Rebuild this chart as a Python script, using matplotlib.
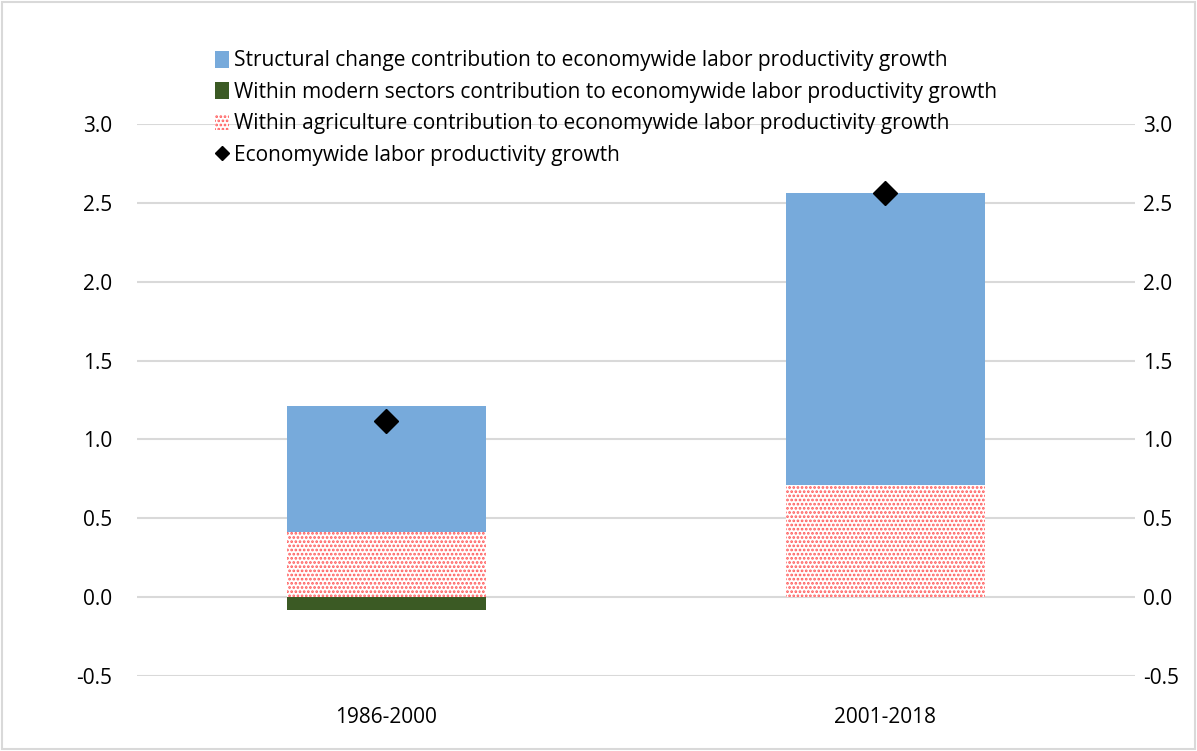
import matplotlib.pyplot as plt
from matplotlib.patches import Rectangle, Patch
from matplotlib.lines import Line2D

periods = ['1986-2000', '2001-2018']
structural = [0.80, 1.85]
within_modern = [-0.08, 0.0]
within_agri = [0.41, 0.71]
total_growth = [1.12, 2.56]

labels = ['Structural change contribution to economywide labor productivity growth',
          'Within modern sectors contribution to economywide labor productivity growth',
          'Within agriculture contribution to economywide labor productivity growth',
          'Economywide labor productivity growth']
yticks = [-0.5, 0.0, 0.5, 1.0, 1.5, 2.0, 2.5, 3.0]

plt.rcParams['font.family'] = ['Open Sans', 'DejaVu Sans']
plt.rcParams['hatch.color'] = '#ff5a5a'
plt.rcParams['hatch.linewidth'] = 1.3

fig = plt.figure(figsize=(11.97, 7.51), dpi=100)
ax = fig.add_axes([137/1197, 1 - 676/751, (1135-137)/1197, (676-124)/751])

x = range(len(periods))
w = 0.4
blue = '#77aadb'
green = '#3b5a24'
fs = 15

# agriculture (dotted) from zero, modern sectors below zero, structural on top of agriculture
ax.bar(x, within_agri, w, color='white', edgecolor='#ff5a5a', hatch='....', linewidth=0, zorder=2)
ax.bar(x, within_modern, w, color=green, linewidth=0, zorder=2)
ax.bar(x, structural, w, bottom=within_agri, color=blue, linewidth=0, zorder=2)
ax.plot(x, total_growth, linestyle='none', marker='D', markersize=12, color='black', zorder=3)

ax.set_xlim(-0.5, 1.5)
ax.set_ylim(-0.5, 3.0)
ax.set_yticks(yticks)
ax.set_yticklabels(['%.1f' % t for t in yticks])
ax.set_xticks(list(x))
ax.set_xticklabels(periods)
ax.grid(axis='y', color='#d9d9d9', linewidth=1.5, zorder=0)
ax.set_axisbelow(True)
for s in ax.spines.values():
  s.set_visible(False)
ax.tick_params(axis='both', length=0, labelsize=fs, colors='#000000')
ax.tick_params(axis='y', pad=18)
ax.tick_params(axis='x', pad=22)

ax2 = ax.twinx()
ax2.set_ylim(ax.get_ylim())
ax2.set_yticks(yticks)
ax2.set_yticklabels(['%.1f' % t for t in yticks])
for s in ax2.spines.values():
  s.set_visible(False)
ax2.tick_params(axis='y', length=0, labelsize=fs, pad=6)

handles = [Patch(facecolor=blue),
           Patch(facecolor=green),
           Patch(facecolor='white', edgecolor='#ff5a5a', hatch='....', linewidth=0),
           Line2D([], [], linestyle='none', marker='D', color='black', markersize=7)]
fig.legend(handles, labels, loc='upper left', bbox_to_anchor=(205/1197, 1 - 40/751),
           frameon=False, fontsize=fs, handlelength=0.65, handleheight=0.85,
           handletextpad=0.25, labelspacing=0.5, borderpad=0)

fig.patches.append(Rectangle((0.002, 0.002), 0.996, 0.996, transform=fig.transFigure,
                             fill=False, edgecolor='#d9d9d9', linewidth=1.5))

fig.savefig('out.png', dpi=100)
